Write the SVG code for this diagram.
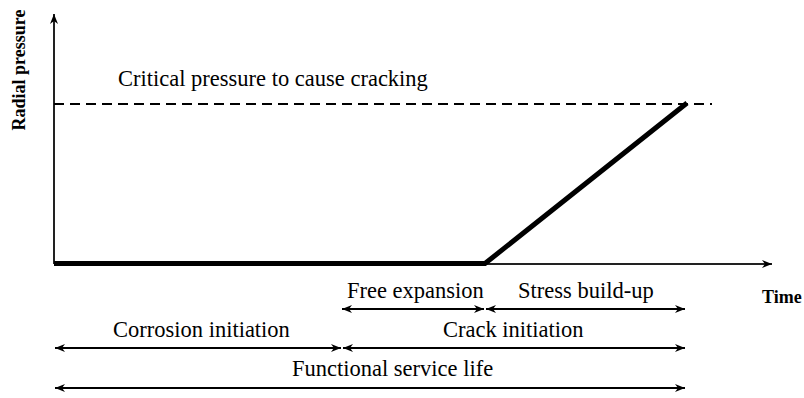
<svg xmlns="http://www.w3.org/2000/svg" width="804" height="398" viewBox="0 0 804 398">
<style>
text{font-family:"Liberation Serif","Times New Roman",serif;fill:#000}
.lbl{font-size:22.5px}
.ax{font-size:18px;font-weight:bold}
.axis{stroke:#222;stroke-width:2;fill:none}
.dim{stroke:#000;stroke-width:2;fill:none;marker-start:url(#ah);marker-end:url(#ah)}
</style>
<defs>
<marker id="ah" markerUnits="userSpaceOnUse" markerWidth="11" markerHeight="9" refX="10" refY="4" orient="auto-start-reverse" viewBox="0 0 11 9">
<path d="M0,0 L10,4 L0,8 L3,4 Z" fill="#000"/>
</marker>
<marker id="ax" markerUnits="userSpaceOnUse" markerWidth="11" markerHeight="9" refX="10" refY="4" orient="auto" viewBox="0 0 11 9">
<path d="M0,0 L10,4 L0,8 L3,4 Z" fill="#000"/>
</marker>
</defs>
<g id="axes">
<line class="axis" x1="54" y1="264" x2="54" y2="14" marker-end="url(#ax)"/>
<line class="axis" x1="54" y1="264" x2="772" y2="264" marker-end="url(#ax)"/>
<text class="ax" transform="translate(25,70) rotate(-90)" text-anchor="middle">Radial pressure</text>
<text class="ax" x="762" y="303">Time</text>
</g>
<g id="critical">
<line x1="54" y1="104" x2="712" y2="104" stroke="#000" stroke-width="2" stroke-dasharray="10 6"/>
<text class="lbl" x="118" y="85.5">Critical pressure to cause cracking</text>
</g>
<g id="curve">
<polyline points="54,263.5 485,263.5 687,103" fill="none" stroke="#000" stroke-width="5"/>
</g>
<g id="connectors">
<line class="dim" x1="342" y1="309" x2="484" y2="309"/>
<line class="dim" x1="486" y1="309" x2="685" y2="309"/>
<line class="dim" x1="55" y1="348" x2="341" y2="348"/>
<line class="dim" x1="343" y1="348" x2="685" y2="348"/>
<line class="dim" x1="55" y1="388" x2="685" y2="388"/>
</g>
<g id="labels">
<text class="lbl" x="347" y="298">Free expansion</text>
<text class="lbl" x="518" y="298">Stress build-up</text>
<text class="lbl" x="113" y="336.5">Corrosion initiation</text>
<text class="lbl" x="443" y="336.5">Crack initiation</text>
<text class="lbl" x="292" y="376">Functional service life</text>
</g>
</svg>
